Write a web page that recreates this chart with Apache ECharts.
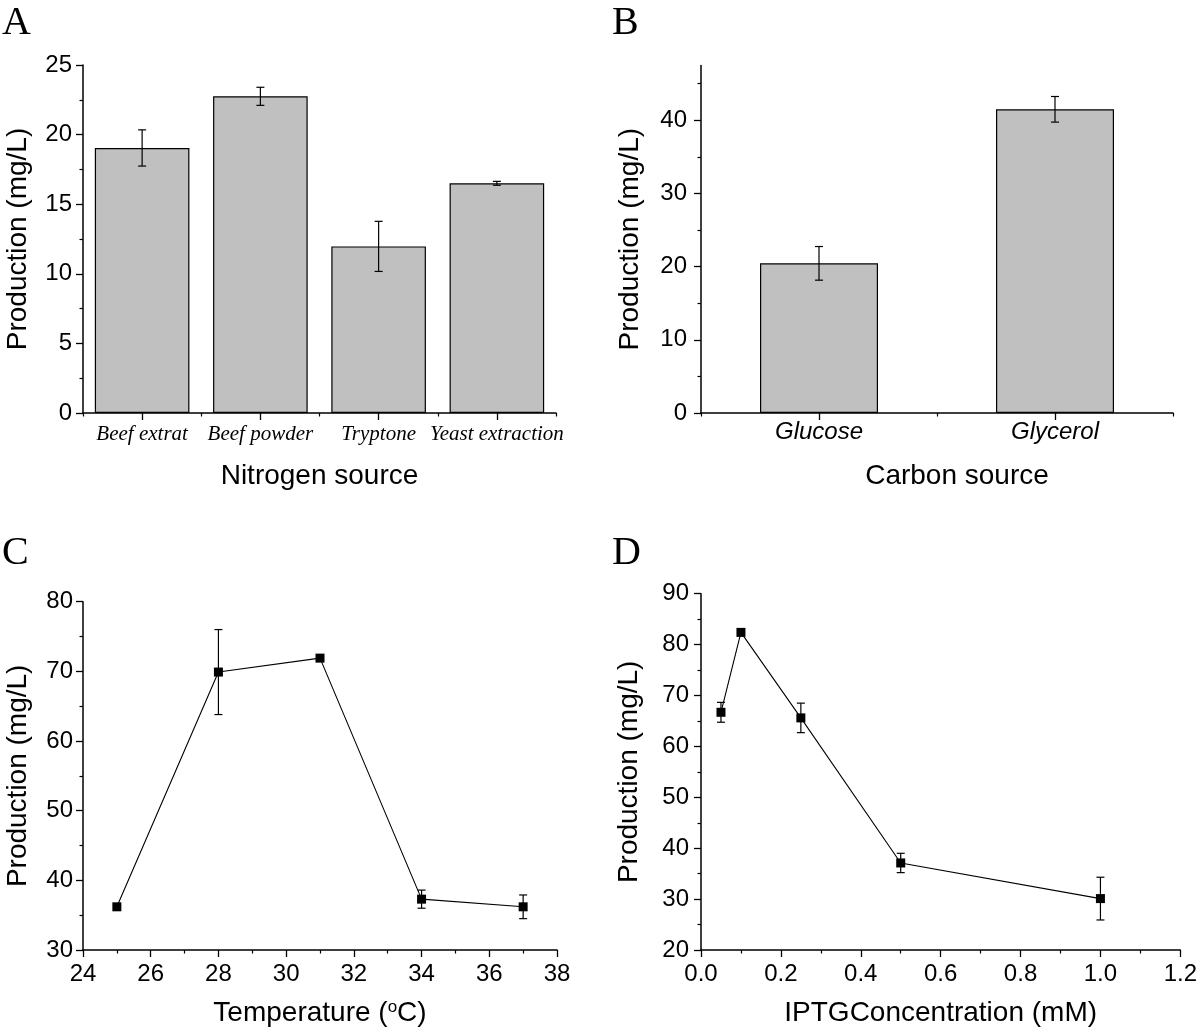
<!DOCTYPE html>
<html><head><meta charset="utf-8">
<script src="https://cdn.jsdelivr.net/npm/echarts@6/dist/echarts.min.js"></script>
<style>html,body{margin:0;padding:0;background:#fff}#c{width:1200px;height:1029px}</style>
</head><body><div id="c"></div>
<script>
// Panel A: nitrogen source
const nitrogenSources = ['Beef extrat', 'Beef powder', 'Tryptone', 'Yeast extraction'];
const nitrogenProduction = [19.04, 22.75, 11.97, 16.5];
const nitrogenError = [1.3, 0.65, 1.8, 0.14];
const nitrogenTicks = [0, 5, 10, 15, 20, 25];
// Panel B: carbon source
const carbonSources = ['Glucose', 'Glycerol'];
const carbonProduction = [20.45, 41.5];
const carbonError = [2.3, 1.75];
const carbonTicks = [0, 10, 20, 30, 40];
const carbonMinorTicks = [5, 15, 25, 35, 45];
// Panel C: temperature
const temperatures = [25, 28, 31, 34, 37];
const temperatureProduction = [36.2, 69.9, 71.9, 37.3, 36.2];
const temperatureError = [0, 6.1, 0, 1.3, 1.7];
// Panel D: IPTG concentration
const iptgConcentrations = [0.05, 0.1, 0.25, 0.5, 1.0];
const iptgProduction = [66.7, 82.4, 65.6, 37.1, 30.1];
const iptgError = [1.95, 0, 2.9, 1.9, 4.2];

const SANS = '"Liberation Sans", Arial, Helvetica, sans-serif';
const SERIF = '"Liberation Serif", "Times New Roman", serif';
const BLACK = '#000';

function errorBarRender(capHalf) {
  return function (params, api) {
    const x = api.value(0), y = api.value(1), e = api.value(2);
    if (!e) return null;
    const top = api.coord([x, y + e]);
    const bot = api.coord([x, y - e]);
    const style = { stroke: BLACK, lineWidth: 1.2, fill: null };
    return {
      type: 'group',
      children: [
        { type: 'line', shape: { x1: top[0], y1: top[1], x2: bot[0], y2: bot[1] }, style: style },
        { type: 'line', shape: { x1: top[0] - capHalf, y1: top[1], x2: top[0] + capHalf, y2: top[1] }, style: style },
        { type: 'line', shape: { x1: bot[0] - capHalf, y1: bot[1], x2: bot[0] + capHalf, y2: bot[1] }, style: style }
      ]
    };
  };
}

const axisLine = { show: true, onZero: false, lineStyle: { color: BLACK, width: 1.5 } };
const majorTick = { show: true, length: 7, lineStyle: { color: BLACK, width: 1.3 } };
const minorTick = { show: true, splitNumber: 2, length: 3.5, lineStyle: { color: BLACK, width: 1.2 } };
const tickLabel = (margin) => ({ color: BLACK, fontFamily: SANS, fontSize: 24, margin: margin });
const nameStyle = { color: BLACK, fontFamily: SANS, fontSize: 28 };

const grids = [
  { left: 83, top: 65, width: 473, height: 348 },
  { left: 701, top: 65.4, width: 472, height: 347.6 },
  { left: 83, top: 601.7, width: 474, height: 348.3 },
  { left: 701, top: 593.7, width: 481, height: 356.3 }
];

const xAxes = [
  // A main
  { gridIndex: 0, type: 'category', position: 'bottom', data: nitrogenSources,
    name: 'Nitrogen source', nameLocation: 'middle', nameGap: 49, nameTextStyle: nameStyle,
    axisLine: axisLine, axisTick: Object.assign({}, majorTick, { alignWithLabel: true }),
    axisLabel: { color: BLACK, fontFamily: SERIF, fontStyle: 'italic', fontSize: 21, margin: 11, interval: 0 },
    splitLine: { show: false } },
  // A boundary ticks
  { gridIndex: 0, type: 'category', position: 'bottom', data: nitrogenSources,
    axisLine: { show: false }, axisTick: { show: true, length: 3.5, lineStyle: { color: BLACK, width: 1.2 } },
    axisLabel: { show: false }, splitLine: { show: false } },
  // B main
  { gridIndex: 1, type: 'category', position: 'bottom', data: carbonSources,
    name: 'Carbon source', nameLocation: 'middle', nameGap: 49,
    nameTextStyle: Object.assign({}, nameStyle, { padding: [0, 0, 0, 40] }),
    axisLine: axisLine, axisTick: Object.assign({}, majorTick, { alignWithLabel: true }),
    axisLabel: { color: BLACK, fontFamily: SANS, fontStyle: 'italic', fontSize: 24, margin: 7, interval: 0 },
    splitLine: { show: false } },
  // B boundary ticks
  { gridIndex: 1, type: 'category', position: 'bottom', data: carbonSources,
    axisLine: { show: false }, axisTick: { show: true, length: 3.5, lineStyle: { color: BLACK, width: 1.2 } },
    axisLabel: { show: false }, splitLine: { show: false } },
  // C
  { gridIndex: 2, type: 'value', position: 'bottom', min: 24, max: 38, interval: 2,
    name: 'Temperature ({s|o}C)', nameLocation: 'middle', nameGap: 49,
    nameTextStyle: Object.assign({}, nameStyle, { rich: { s: { fontFamily: SANS, fontSize: 17, color: BLACK, verticalAlign: 'top', padding: [0, 0, 10, 0] } } }),
    axisLine: axisLine, axisTick: majorTick, minorTick: minorTick,
    axisLabel: tickLabel(12), splitLine: { show: false }, minorSplitLine: { show: false } },
  // D
  { gridIndex: 3, type: 'value', position: 'bottom', min: 0, max: 1.2, interval: 0.2,
    name: 'IPTGConcentration (mM)', nameLocation: 'middle', nameGap: 49, nameTextStyle: nameStyle,
    axisLine: axisLine, axisTick: majorTick, minorTick: minorTick,
    axisLabel: Object.assign(tickLabel(12), { formatter: (v) => v.toFixed(1) }),
    splitLine: { show: false }, minorSplitLine: { show: false } }
];

const yAxes = [
  // A
  { gridIndex: 0, type: 'value', position: 'left', min: nitrogenTicks[0], max: nitrogenTicks[nitrogenTicks.length - 1], interval: 5,
    name: 'Production (mg/L)', nameLocation: 'middle', nameRotate: 90, nameGap: 51, nameTextStyle: nameStyle,
    axisLine: axisLine, axisTick: majorTick, minorTick: minorTick,
    axisLabel: tickLabel(11), splitLine: { show: false }, minorSplitLine: { show: false } },
  // B main
  { gridIndex: 1, type: 'value', position: 'left', min: 0, max: 47.5, interval: 10,
    name: 'Production (mg/L)', nameLocation: 'middle', nameRotate: 90, nameGap: 57, nameTextStyle: nameStyle,
    axisLine: axisLine, axisTick: Object.assign({}, majorTick, { customValues: carbonTicks }),
    axisLabel: Object.assign(tickLabel(14), { customValues: carbonTicks }),
    splitLine: { show: false } },
  // B minor ticks
  { gridIndex: 1, type: 'value', position: 'left', min: 0, max: 47.5, interval: 10,
    axisLine: { show: false },
    axisTick: { show: true, length: 3.5, customValues: carbonMinorTicks, lineStyle: { color: BLACK, width: 1.2 } },
    axisLabel: { show: false }, splitLine: { show: false } },
  // C
  { gridIndex: 2, type: 'value', position: 'left', min: 30, max: 80, interval: 10,
    name: 'Production (mg/L)', nameLocation: 'middle', nameRotate: 90, nameGap: 51, nameTextStyle: nameStyle,
    axisLine: axisLine, axisTick: majorTick, minorTick: minorTick,
    axisLabel: tickLabel(10), splitLine: { show: false }, minorSplitLine: { show: false } },
  // D
  { gridIndex: 3, type: 'value', position: 'left', min: 20, max: 90, interval: 10,
    name: 'Production (mg/L)', nameLocation: 'middle', nameRotate: 90, nameGap: 58, nameTextStyle: nameStyle,
    axisLine: axisLine, axisTick: majorTick, minorTick: minorTick,
    axisLabel: tickLabel(12), splitLine: { show: false }, minorSplitLine: { show: false } }
];

const barStyle = { color: '#c0c0c0', borderColor: BLACK, borderWidth: 1.2 };
const lineCommon = {
  type: 'line', symbol: 'rect', symbolSize: 9,
  lineStyle: { color: BLACK, width: 1.1 }, itemStyle: { color: BLACK },
  z: 4
};

const series = [
  { type: 'bar', xAxisIndex: 0, yAxisIndex: 0, data: nitrogenProduction, barCategoryGap: '20%', itemStyle: barStyle, z: 2 },
  { type: 'custom', xAxisIndex: 0, yAxisIndex: 0, renderItem: errorBarRender(4), z: 5,
    data: nitrogenProduction.map((v, i) => [i, v, nitrogenError[i]]), encode: { x: 0, y: 1 } },
  { type: 'bar', xAxisIndex: 2, yAxisIndex: 1, data: carbonProduction, barCategoryGap: '50%', itemStyle: barStyle, z: 2 },
  { type: 'custom', xAxisIndex: 2, yAxisIndex: 1, renderItem: errorBarRender(4), z: 5,
    data: carbonProduction.map((v, i) => [i, v, carbonError[i]]), encode: { x: 0, y: 1 } },
  Object.assign({}, lineCommon, { xAxisIndex: 4, yAxisIndex: 3,
    data: temperatures.map((t, i) => [t, temperatureProduction[i]]) }),
  { type: 'custom', xAxisIndex: 4, yAxisIndex: 3, renderItem: errorBarRender(4), z: 3,
    data: temperatures.map((t, i) => [t, temperatureProduction[i], temperatureError[i]]), encode: { x: 0, y: 1 } },
  Object.assign({}, lineCommon, { xAxisIndex: 5, yAxisIndex: 4,
    data: iptgConcentrations.map((c, i) => [c, iptgProduction[i]]) }),
  { type: 'custom', xAxisIndex: 5, yAxisIndex: 4, renderItem: errorBarRender(4), z: 3,
    data: iptgConcentrations.map((c, i) => [c, iptgProduction[i], iptgError[i]]), encode: { x: 0, y: 1 } }
];

const letterFont = '40px ' + SERIF;
const graphic = [
  { type: 'text', left: 2, top: 3, style: { text: 'A', font: letterFont, fill: BLACK } },
  { type: 'text', left: 612, top: 3, style: { text: 'B', font: letterFont, fill: BLACK } },
  { type: 'text', left: 2, top: 533, style: { text: 'C', font: letterFont, fill: BLACK } },
  { type: 'text', left: 612, top: 533, style: { text: 'D', font: letterFont, fill: BLACK } }
];

const chart = echarts.init(document.getElementById('c'), null, { renderer: 'canvas' });
chart.setOption({
  animation: false,
  backgroundColor: '#fff',
  grid: grids,
  xAxis: xAxes,
  yAxis: yAxes,
  series: series,
  graphic: graphic
});
</script>
</body></html>
